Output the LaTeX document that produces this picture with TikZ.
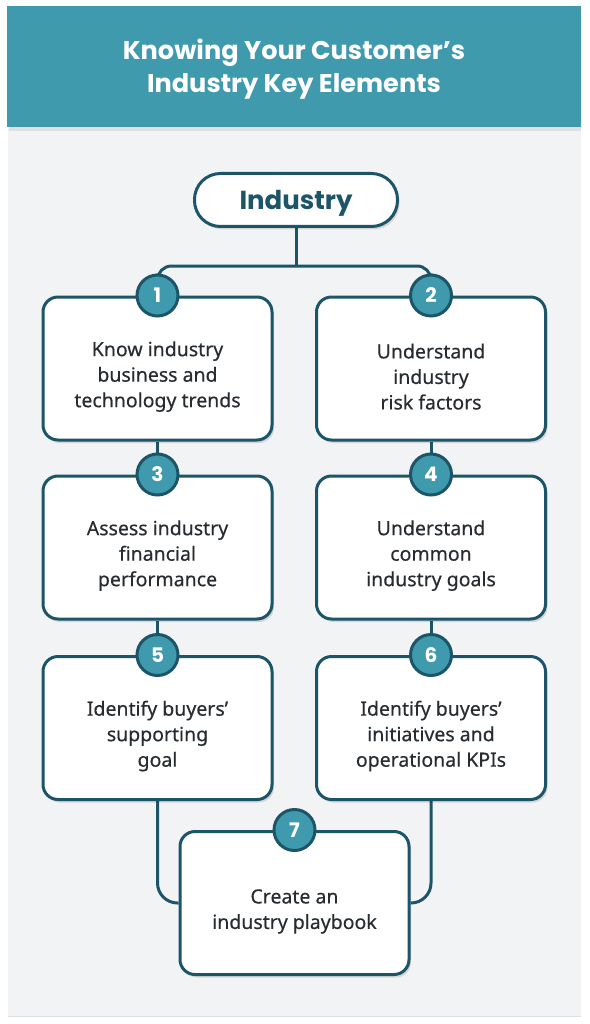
\documentclass[tikz,border=0pt]{standalone}
\usepackage{fontspec}
\setmainfont{Noto Sans}
\newfontfamily\headfont{Poppins}
\newfontfamily\cardfont{Noto Sans}[FakeBold=0.35]
\usetikzlibrary{positioning,shadows,backgrounds}
\definecolor{headteal}{HTML}{3F9AAD}
\definecolor{darkteal}{HTML}{1D5568}
\definecolor{bodytext}{HTML}{262C30}
\definecolor{panelgray}{HTML}{F2F3F5}
\pgfdeclarelayer{panel}
\pgfsetlayers{panel,background,main}
\newcommand\cardtop{\rule{0pt}{31pt}}

\tikzset{
    cardshadow/.style={drop shadow={shadow xshift=2pt, shadow yshift=-3pt, opacity=0.12, fill=black}},
    stepcard/.style={draw=darkteal, line width=3pt, fill=white, rounded corners=15pt,
        minimum width=229pt, minimum height=143pt, align=center, text=bodytext,
        font=\cardfont\fontsize{19.5}{25.5}\selectfont, cardshadow},
    pill/.style={draw=darkteal, line width=3pt, fill=white, rounded corners=26pt,
        minimum width=203pt, minimum height=53pt, text=darkteal,
        font=\headfont\bfseries\fontsize{26}{30}\selectfont, cardshadow},
    numdot/.style={circle, draw=darkteal, line width=3pt, fill=headteal, minimum size=41pt,
        inner sep=0pt, text=white, font=\headfont\bfseries\fontsize{20}{20}\selectfont},
    link/.style={draw=darkteal, line width=3pt}
}

\begin{document}
\begin{tikzpicture}[x=1pt, y=-1pt]
    \useasboundingbox (0,0) rectangle (589,1024);

    % panel and header
    \begin{pgfonlayer}{panel}
        \fill[white] (0,0) rectangle (589,1024);
        \fill[panelgray] (8,127) rectangle (581,1016);
        \draw[black!12] (8,1016) -- (581,1016);
        \fill[black!12] (9,127) rectangle (581,131);
        \fill[headteal] (7,6) rectangle (581,127);
    \end{pgfonlayer}
    \node[text=white, align=center, font=\headfont\bfseries\fontsize{25.6}{33}\selectfont]
        (title) at (294,69) {Knowing Your Customer’s\\Industry Key Elements};

    \node[pill] (industry) at (296,200) {};
    \node[text=darkteal, font=\headfont\bfseries\fontsize{26}{30}\selectfont]
        (industrytext) at (296,203) {Industry};
    \coordinate (fork) at (296,266);

    \node[stepcard] (s1) at (157.5,368.5) {\cardtop Know industry\\business and\\technology trends};
    \node[stepcard] (s2) at (431,368.5) {\cardtop Understand\\industry\\risk factors};
    \node[stepcard] (s3) at (157.5,547.5) {\cardtop Assess industry\\financial\\performance};
    \node[stepcard] (s4) at (431,547.5) {\cardtop Understand\\common\\industry goals};
    \node[stepcard] (s5) at (157.5,728) {\cardtop Identify buyers’\\supporting\\goal};
    \node[stepcard] (s6) at (431,728) {\cardtop Identify buyers’\\initiatives and\\operational KPIs};
    \node[stepcard] (s7) at (294.5,903) {\cardtop Create an\\industry playbook};

    \foreach \i in {1,...,7}
        \node[numdot] (n\i) at (s\i.north) {\i};

    % connectors
    \begin{pgfonlayer}{background}
        \draw[link] (industry) -- (fork);
        \draw[link, rounded corners=14pt] (n1) |- (fork) -| (n2);
        \draw[link] (s1) -- (n3);
        \draw[link] (s3) -- (n5);
        \draw[link] (s2) -- (n4);
        \draw[link] (s4) -- (n6);
        \draw[link, rounded corners=20pt] (s5) |- (s7);
        \draw[link, rounded corners=20pt] (s6) |- (s7);
    \end{pgfonlayer}

\end{tikzpicture}
\end{document}
